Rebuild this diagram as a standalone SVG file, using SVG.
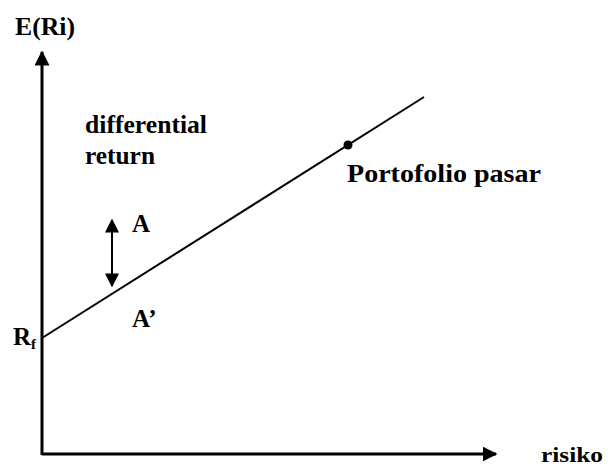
<svg xmlns="http://www.w3.org/2000/svg" width="608" height="468" viewBox="0 0 608 468">
<style>
text{font-family:"Liberation Serif","Times New Roman",serif;font-weight:bold;fill:#000}
.ax{stroke:#000;stroke-width:3;fill:none}
.ln{stroke:#000;stroke-width:2;fill:none}
</style>
<defs>
<marker id="ah" viewBox="0 0 10 10" refX="9" refY="5" markerWidth="5" markerHeight="5" orient="auto" markerUnits="strokeWidth"><path d="M0,0L10,5L0,10z" fill="#000"/></marker>
<marker id="ah2" viewBox="0 0 10 10" refX="9" refY="5" markerWidth="7" markerHeight="7" orient="auto-start-reverse" markerUnits="strokeWidth"><path d="M0,0L10,5L0,10z" fill="#000"/></marker>
</defs>
<g id="connectors">
<line class="ax" x1="42" y1="455" x2="42" y2="52" marker-end="url(#ah)"/>
<line class="ax" x1="42" y1="454" x2="496" y2="454" marker-end="url(#ah)"/>
<line class="ln" x1="42" y1="338" x2="424" y2="97"/>
<line class="ln" x1="112" y1="220" x2="112" y2="286" marker-start="url(#ah2)" marker-end="url(#ah2)"/>
</g>
<g id="market"><circle cx="348" cy="145" r="4.5" fill="#000"/><text x="347" y="182" font-size="25" textLength="194" lengthAdjust="spacingAndGlyphs">Portofolio pasar</text></g>
<g id="yaxis-label"><text x="15" y="35" font-size="25" textLength="60" lengthAdjust="spacingAndGlyphs">E(Ri)</text></g>
<g id="xaxis-label"><text x="541" y="462" font-size="21" textLength="62" lengthAdjust="spacingAndGlyphs">risiko</text></g>
<g id="rf"><text x="13" y="345" font-size="25">R<tspan font-size="15" dy="4">f</tspan></text></g>
<g id="diff"><text x="85" y="133" font-size="25" textLength="122" lengthAdjust="spacingAndGlyphs">differential</text><text x="85" y="164" font-size="25" textLength="70" lengthAdjust="spacingAndGlyphs">return</text></g>
<g id="A"><text x="132" y="232" font-size="25">A</text></g>
<g id="A2"><text x="132" y="327" font-size="25">A’</text></g>
</svg>
